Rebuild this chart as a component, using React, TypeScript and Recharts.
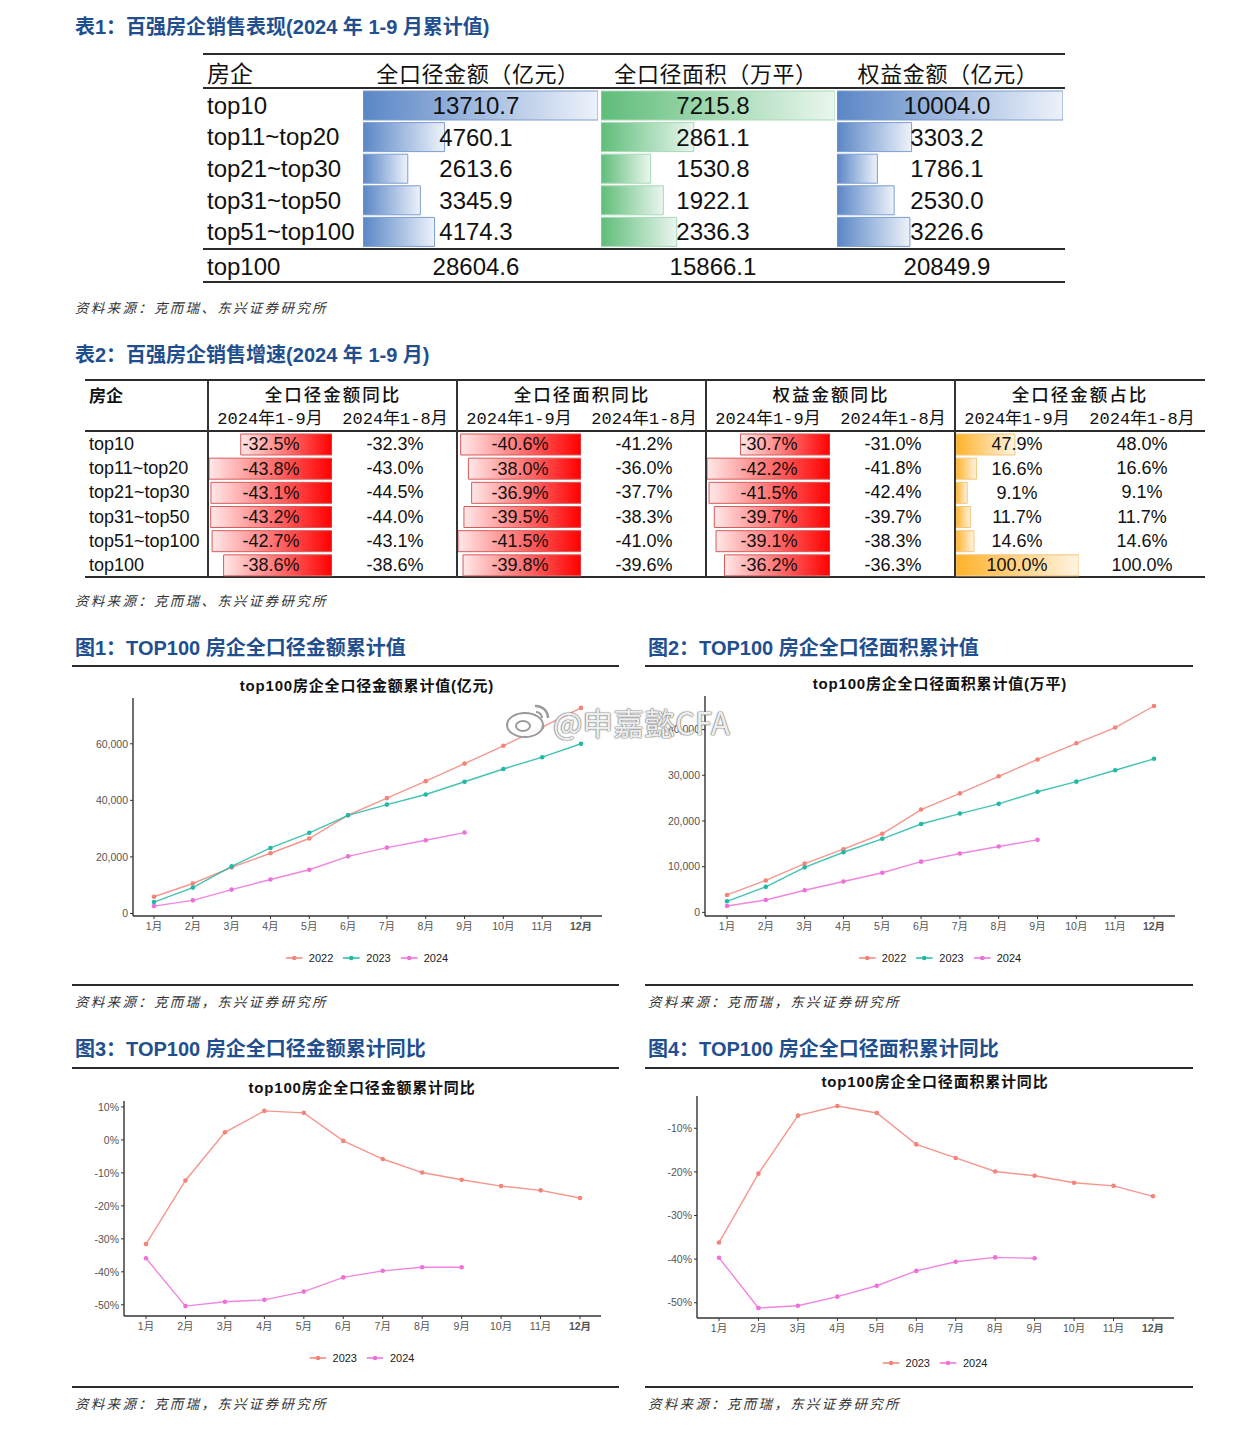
import React from 'react';
import { BarChart, Bar, LineChart, Line, XAxis, YAxis, LabelList } from 'recharts';

// ---- table 1: 2024 1-9月 cumulative values
const t1Rows = ['top10', 'top11~top20', 'top21~top30', 'top31~top50', 'top51~top100'];
const t1Amount = [13710.7, 4760.1, 2613.6, 3345.9, 4174.3];
const t1Area = [7215.8, 2861.1, 1530.8, 1922.1, 2336.3];
const t1Equity = [10004.0, 3303.2, 1786.1, 2530.0, 3226.6];
const t1Totals = [28604.6, 15866.1, 20849.9];

// ---- table 2: growth rates (%)
const t2Rows = ['top10', 'top11~top20', 'top21~top30', 'top31~top50', 'top51~top100', 'top100'];
const t2AmountSep = [-32.5, -43.8, -43.1, -43.2, -42.7, -38.6];
const t2AmountAug = [-32.3, -43.0, -44.5, -44.0, -43.1, -38.6];
const t2AreaSep = [-40.6, -38.0, -36.9, -39.5, -41.5, -39.8];
const t2AreaAug = [-41.2, -36.0, -37.7, -38.3, -41.0, -39.6];
const t2EquitySep = [-30.7, -42.2, -41.5, -39.7, -39.1, -36.2];
const t2EquityAug = [-31.0, -41.8, -42.4, -39.7, -38.3, -36.3];
const t2ShareSep = [47.9, 16.6, 9.1, 11.7, 14.6, 100.0];
const t2ShareAug = [48.0, 16.6, 9.1, 11.7, 14.6, 100.0];

// ---- charts
const months = ['1月', '2月', '3月', '4月', '5月', '6月', '7月', '8月', '9月', '10月', '11月', '12月'];
const amount2022 = [5900, 10600, 16300, 21300, 26500, 34800, 40800, 46800, 53000, 59300, 65900, 72700];
const amount2023 = [4040, 9150, 16640, 23170, 28520, 34700, 38500, 42070, 46580, 51100, 55260, 60010];
const amount2024 = [2610, 4630, 8440, 12000, 15450, 20200, 23290, 25900, 28605];
const area2022 = [3820, 6990, 10660, 13820, 17200, 22500, 26030, 29780, 33460, 36990, 40440, 45150];
const area2023 = [2430, 5590, 9850, 13160, 16100, 19340, 21620, 23750, 26400, 28600, 31100, 33600];
const area2024 = [1400, 2720, 4850, 6760, 8680, 11100, 12870, 14410, 15866];
const amountYoy2023 = [-31.6, -12.3, 2.3, 8.8, 8.2, -0.3, -5.8, -9.9, -12.1, -14.0, -15.3, -17.6];
const amountYoy2024 = [-35.9, -50.4, -49.1, -48.5, -46.0, -41.7, -39.7, -38.6, -38.6];
const areaYoy2023 = [-36.2, -20.4, -7.1, -4.9, -6.5, -13.7, -16.8, -19.9, -20.9, -22.5, -23.2, -25.6];
const areaYoy2024 = [-39.7, -51.2, -50.7, -48.6, -46.1, -42.7, -40.6, -39.6, -39.8];

const SANS = '"Liberation Sans", Arial, "Noto Sans CJK SC", sans-serif';
const CJK = '"Noto Sans CJK SC", "Liberation Sans", sans-serif';
const MONO = '"Liberation Mono", "Noto Sans CJK SC", monospace';
const BLUE = '#1F4F8F';
const C2022 = '#F4847A';
const C2023 = '#22B8A6';
const C2024 = '#EE70DA';

type TxtProps = { x: number; y: number; anchor?: 'start' | 'middle'; style?: React.CSSProperties; children: React.ReactNode };
function Txt({ x, y, anchor = 'start', style, children }: TxtProps) {
  return (
    <div
      style={{
        position: 'absolute',
        left: x,
        top: y,
        transform: anchor === 'middle' ? 'translate(-50%, -50%)' : 'translateY(-50%)',
        whiteSpace: 'nowrap',
        lineHeight: 1,
        ...style,
      }}
    >
      {children}
    </div>
  );
}

function HLine({ x1, x2, y, w = 2 }: { x1: number; x2: number; y: number; w?: number }) {
  return <div style={{ position: 'absolute', left: x1, top: y - w / 2, width: x2 - x1, height: w, background: '#2b2b2b' }} />;
}
function VLine({ x, y1, y2 }: { x: number; y1: number; y2: number }) {
  return <div style={{ position: 'absolute', left: x - 0.6, top: y1, width: 1.2, height: y2 - y1, background: '#333' }} />;
}

type DataBarProps = {
  left: number; top: number; width: number; height: number;
  values: number[]; domain: [number, number]; grad: string; stroke: string;
  barSize: number; labelX: number; fontSize: number; fmt: (v: number) => string;
};
function DataBars({ left, top, width, height, values, domain, grad, stroke, barSize, labelX, fontSize, fmt }: DataBarProps) {
  const data = values.map((v, i) => ({ row: i, v }));
  return (
    <div style={{ position: 'absolute', left, top }}>
      <BarChart layout="vertical" width={width} height={height} data={data} margin={{ top: 0, right: 0, bottom: 0, left: 0 }}>
        <XAxis type="number" domain={domain} hide allowDataOverflow />
        <YAxis type="category" dataKey="row" hide />
        <Bar dataKey="v" barSize={barSize} fill={`url(#${grad})`} stroke={stroke} strokeWidth={1} isAnimationActive={false}>
          <LabelList
            dataKey="v"
            content={(p: any) => {
              const y = p.y ?? p.viewBox?.y;
              const h = p.height ?? p.viewBox?.height;
              return (
                <text x={labelX} y={y + h / 2} textAnchor="middle" dominantBaseline="central" fontSize={fontSize} fontFamily={SANS} fill="#111">
                  {fmt(Number(p.value))}
                </text>
              );
            }}
          />
        </Bar>
      </BarChart>
    </div>
  );
}

type PanelProps = {
  plot: { left: number; right: number; top: number; bottom: number };
  pad: [number, number];
  domain: [number, number];
  ticks: number[];
  fmt: (v: number) => string;
  series: { name: string; values: number[]; color: string }[];
  title: string; titleX: number; titleY: number;
  legendX: number; legendY: number;
};
function TrendPanel({ plot, pad, domain, ticks, fmt, series, title, titleX, titleY, legendX, legendY }: PanelProps) {
  const left = plot.left - 60;
  const top = plot.top - 5;
  const width = plot.right + 10 - left;
  const height = plot.bottom + 30 - top;
  const data = months.map((m, i) => {
    const row: Record<string, any> = { month: m };
    series.forEach((s, k) => { row['s' + k] = s.values[i]; });
    return row;
  });
  const XTick = (p: any) => (
    <text x={p.x} y={p.y} dy={9} textAnchor="middle" fontSize={10.5} fontFamily={SANS} fill="#555"
      fontWeight={p.payload.value === '12月' ? 'bold' : 'normal'}>
      {p.payload.value}
    </text>
  );
  return (
    <>
      <Txt x={titleX} y={titleY} anchor="middle" style={{ fontFamily: SANS, fontWeight: 'bold', fontSize: 15, letterSpacing: 0.8, color: '#111' }}>{title}</Txt>
      <div style={{ position: 'absolute', left, top }}>
        <LineChart width={width} height={height} data={data} margin={{ top: 5, right: 10, bottom: 5, left: 5 }}>
          <XAxis dataKey="month" interval={0} padding={{ left: pad[0], right: pad[1] }} height={25}
            axisLine={{ stroke: '#333', strokeWidth: 1.4 }} tickLine={{ stroke: '#333' }} tickSize={3} tick={XTick} />
          <YAxis type="number" domain={domain} ticks={ticks} allowDataOverflow width={55} tickFormatter={fmt}
            axisLine={{ stroke: '#333', strokeWidth: 1.4 }} tickLine={{ stroke: '#333' }} tickSize={3}
            tick={{ fontSize: 10.5, fill: '#555', fontFamily: SANS }} />
          {series.map((s, k) => (
            <Line key={s.name} type="linear" dataKey={'s' + k} stroke={s.color} strokeWidth={1.4} strokeOpacity={0.85}
              dot={{ r: 2.3, fill: s.color, stroke: s.color, strokeWidth: 0 }} isAnimationActive={false} />
          ))}
        </LineChart>
      </div>
      <div style={{ position: 'absolute', left: legendX, top: legendY, transform: 'translate(-50%, -50%)', display: 'flex', alignItems: 'center', gap: 10 }}>
        {series.map((s) => (
          <div key={s.name} style={{ display: 'flex', alignItems: 'center', gap: 6 }}>
            <svg width={17} height={8}>
              <line x1={0} y1={4} x2={17} y2={4} stroke={s.color} strokeWidth={1.5} />
              <circle cx={8.5} cy={4} r={2.3} fill={s.color} />
            </svg>
            <span style={{ fontFamily: SANS, fontSize: 11, color: '#222' }}>{s.name}</span>
          </div>
        ))}
      </div>
    </>
  );
}

const sourceStyle: React.CSSProperties = { fontFamily: CJK, fontStyle: 'italic', fontSize: 13.5, color: '#333', letterSpacing: 2.3 };
const headStyle: React.CSSProperties = { fontFamily: SANS, fontWeight: 'bold', fontSize: 20, color: BLUE };
const thousands = (v: number) => v.toLocaleString('en-US');
const pct = (v: number) => `${v}%`;
const pct1 = (v: number) => `${v.toFixed(1)}%`;

export default function App() {
  const t1Top = 90, t1Row = 31.6;
  const t2Top = 432, t2Row = 24.17;
  return (
    <div style={{ position: 'relative', width: 1260, height: 1440, margin: '-8px 0 0 -8px', background: '#fff', overflow: 'hidden' }}>
      <svg width={0} height={0} style={{ position: 'absolute' }}>
        <defs>
          <linearGradient id="gBlue" x1="0" y1="0" x2="1" y2="0">
            <stop offset="0%" stopColor="#5A86C6" />
            <stop offset="100%" stopColor="#EDF2FA" />
          </linearGradient>
          <linearGradient id="gGreen" x1="0" y1="0" x2="1" y2="0">
            <stop offset="0%" stopColor="#5FBD79" />
            <stop offset="100%" stopColor="#EAF6EE" />
          </linearGradient>
          <linearGradient id="gRed" x1="0" y1="0" x2="1" y2="0">
            <stop offset="0%" stopColor="#FFE8E8" />
            <stop offset="100%" stopColor="#FF0000" />
          </linearGradient>
          <linearGradient id="gOrange" x1="0" y1="0" x2="1" y2="0">
            <stop offset="0%" stopColor="#FFB22A" />
            <stop offset="100%" stopColor="#FFF4E2" />
          </linearGradient>
        </defs>
      </svg>

      {/* ===== Table 1 ===== */}
      <Txt x={75} y={27} style={headStyle}>表1：百强房企销售表现(2024 年 1-9 月累计值)</Txt>
      <HLine x1={203} x2={1065} y={54} />
      <HLine x1={203} x2={1065} y={88} w={2.4} />
      <HLine x1={203} x2={1065} y={249} w={1.6} />
      <HLine x1={203} x2={1065} y={282} />
      <Txt x={207} y={72} style={{ fontFamily: CJK, fontSize: 23, color: '#111' }}>房企</Txt>
      <Txt x={478} y={72} anchor="middle" style={{ fontFamily: CJK, fontSize: 22, color: '#111', letterSpacing: 0.6 }}>全口径金额（亿元）</Txt>
      <Txt x={716} y={72} anchor="middle" style={{ fontFamily: CJK, fontSize: 22, color: '#111', letterSpacing: 0.6 }}>全口径面积（万平）</Txt>
      <Txt x={948} y={72} anchor="middle" style={{ fontFamily: CJK, fontSize: 22, color: '#111', letterSpacing: 0.6 }}>权益金额（亿元）</Txt>
      {t1Rows.map((r, i) => (
        <Txt key={r} x={207} y={t1Top + t1Row * (i + 0.5)} style={{ fontFamily: SANS, fontSize: 24, color: '#111' }}>{r}</Txt>
      ))}
      <DataBars left={363} top={t1Top} width={235} height={t1Row * 5} values={t1Amount} domain={[0, 13710.7]} grad="gBlue" stroke="#7C9DD2" barSize={29} labelX={113} fontSize={24} fmt={(v) => v.toFixed(1)} />
      <DataBars left={601} top={t1Top} width={234} height={t1Row * 5} values={t1Area} domain={[0, 7215.8]} grad="gGreen" stroke="#A6DAB4" barSize={29} labelX={112} fontSize={24} fmt={(v) => v.toFixed(1)} />
      <DataBars left={837} top={t1Top} width={226} height={t1Row * 5} values={t1Equity} domain={[0, 10004.0]} grad="gBlue" stroke="#7C9DD2" barSize={29} labelX={110} fontSize={24} fmt={(v) => v.toFixed(1)} />
      <Txt x={207} y={267} style={{ fontFamily: SANS, fontSize: 24, color: '#111' }}>top100</Txt>
      {t1Totals.map((v, i) => (
        <Txt key={i} x={[476, 713, 947][i]} y={267} anchor="middle" style={{ fontFamily: SANS, fontSize: 24, color: '#111' }}>{v.toFixed(1)}</Txt>
      ))}
      <Txt x={75} y={308} style={sourceStyle}>资料来源：克而瑞、东兴证券研究所</Txt>

      {/* ===== Table 2 ===== */}
      <Txt x={75} y={355} style={headStyle}>表2：百强房企销售增速(2024 年 1-9 月)</Txt>
      <HLine x1={85} x2={1205} y={380} w={1.5} />
      <HLine x1={85} x2={1205} y={431} w={2.4} />
      <HLine x1={85} x2={1205} y={577} w={2} />
      {[208, 457, 706, 955].map((x) => <VLine key={x} x={x} y1={380} y2={577} />)}
      <Txt x={89} y={394} style={{ fontFamily: CJK, fontSize: 17, fontWeight: 'bold', color: '#111' }}>房企</Txt>
      {['全口径金额同比', '全口径面积同比', '权益金额同比', '全口径金额占比'].map((h, i) => (
        <Txt key={h} x={333 + 249 * i} y={394} anchor="middle" style={{ fontFamily: CJK, fontSize: 17.5, fontWeight: 500, color: '#111', letterSpacing: 2 }}>{h}</Txt>
      ))}
      {[0, 1, 2, 3].map((g) => (
        <React.Fragment key={g}>
          <Txt x={270 + 249 * g} y={419} anchor="middle" style={{ fontFamily: MONO, fontSize: 17, color: '#111' }}>2024年1-9月</Txt>
          <Txt x={395 + 249 * g} y={419} anchor="middle" style={{ fontFamily: MONO, fontSize: 17, color: '#111' }}>2024年1-8月</Txt>
        </React.Fragment>
      ))}
      {t2Rows.map((r, i) => (
        <Txt key={r} x={89} y={t2Top + t2Row * (i + 0.5)} style={{ fontFamily: SANS, fontSize: 18, color: '#111' }}>{r}</Txt>
      ))}
      <DataBars left={209} top={t2Top} width={123} height={t2Row * 6} values={t2AmountSep} domain={[-43.8, 0]} grad="gRed" stroke="#D85A5A" barSize={21} labelX={62} fontSize={18} fmt={pct1} />
      <DataBars left={458} top={t2Top} width={123} height={t2Row * 6} values={t2AreaSep} domain={[-41.5, 0]} grad="gRed" stroke="#D85A5A" barSize={21} labelX={62} fontSize={18} fmt={pct1} />
      <DataBars left={707} top={t2Top} width={123} height={t2Row * 6} values={t2EquitySep} domain={[-42.2, 0]} grad="gRed" stroke="#D85A5A" barSize={21} labelX={62} fontSize={18} fmt={pct1} />
      <DataBars left={956} top={t2Top} width={123} height={t2Row * 6} values={t2ShareSep} domain={[0, 100]} grad="gOrange" stroke="#F2C77A" barSize={21} labelX={61} fontSize={18} fmt={pct1} />
      {[t2AmountAug, t2AreaAug, t2EquityAug, t2ShareAug].map((col, g) =>
        col.map((v, i) => (
          <Txt key={g + '-' + i} x={395 + 249 * g} y={t2Top + t2Row * (i + 0.5)} anchor="middle" style={{ fontFamily: SANS, fontSize: 18, color: '#111' }}>{pct1(v)}</Txt>
        ))
      )}
      <Txt x={75} y={601} style={sourceStyle}>资料来源：克而瑞、东兴证券研究所</Txt>

      {/* ===== Figures ===== */}
      <Txt x={75} y={648} style={headStyle}>图1：TOP100 房企全口径金额累计值</Txt>
      <Txt x={648} y={648} style={headStyle}>图2：TOP100 房企全口径面积累计值</Txt>
      <HLine x1={72} x2={619} y={666} />
      <HLine x1={645} x2={1193} y={666} />
      <HLine x1={72} x2={619} y={985} />
      <HLine x1={645} x2={1193} y={985} />
      <Txt x={75} y={1002} style={sourceStyle}>资料来源：克而瑞，东兴证券研究所</Txt>
      <Txt x={648} y={1002} style={sourceStyle}>资料来源：克而瑞，东兴证券研究所</Txt>

      <TrendPanel
        plot={{ left: 133, right: 602, top: 698, bottom: 916 }} pad={[21, 21]} domain={[-900, 76200]} ticks={[0, 20000, 40000, 60000]} fmt={thousands}
        series={[{ name: '2022', values: amount2022, color: C2022 }, { name: '2023', values: amount2023, color: C2023 }, { name: '2024', values: amount2024, color: C2024 }]}
        title="top100房企全口径金额累计值(亿元)" titleX={367} titleY={685} legendX={367} legendY={958}
      />
      <TrendPanel
        plot={{ left: 705, right: 1175, top: 696, bottom: 916 }} pad={[22, 21]} domain={[-790, 47340]} ticks={[0, 10000, 20000, 30000, 40000]} fmt={thousands}
        series={[{ name: '2022', values: area2022, color: C2022 }, { name: '2023', values: area2023, color: C2023 }, { name: '2024', values: area2024, color: C2024 }]}
        title="top100房企全口径面积累计值(万平)" titleX={940} titleY={683} legendX={940} legendY={958}
      />

      <Txt x={75} y={1049} style={headStyle}>图3：TOP100 房企全口径金额累计同比</Txt>
      <Txt x={648} y={1049} style={headStyle}>图4：TOP100 房企全口径面积累计同比</Txt>
      <HLine x1={72} x2={619} y={1068} />
      <HLine x1={645} x2={1193} y={1068} />
      <HLine x1={72} x2={619} y={1387} />
      <HLine x1={645} x2={1193} y={1387} />
      <Txt x={75} y={1404} style={sourceStyle}>资料来源：克而瑞，东兴证券研究所</Txt>
      <Txt x={648} y={1404} style={sourceStyle}>资料来源：克而瑞，东兴证券研究所</Txt>

      <TrendPanel
        plot={{ left: 124, right: 601, top: 1101, bottom: 1316 }} pad={[22, 21]} domain={[-53.4, 11.8]} ticks={[10, 0, -10, -20, -30, -40, -50]} fmt={pct}
        series={[{ name: '2023', values: amountYoy2023, color: C2022 }, { name: '2024', values: amountYoy2024, color: C2024 }]}
        title="top100房企全口径金额累计同比" titleX={362} titleY={1087} legendX={362} legendY={1358}
      />
      <TrendPanel
        plot={{ left: 697, right: 1174, top: 1096, bottom: 1318 }} pad={[22, 21]} domain={[-53.5, -2.6]} ticks={[-10, -20, -30, -40, -50]} fmt={pct}
        series={[{ name: '2023', values: areaYoy2023, color: C2022 }, { name: '2024', values: areaYoy2024, color: C2024 }]}
        title="top100房企全口径面积累计同比" titleX={935} titleY={1081} legendX={935} legendY={1363}
      />

      {/* watermark */}
      <svg width={50} height={40} style={{ position: 'absolute', left: 503, top: 700 }}>
        <ellipse cx={22} cy={25} rx={18} ry={12} fill="rgba(255,255,255,0.85)" stroke="#9a9a9a" strokeWidth={2} />
        <ellipse cx={20} cy={26} rx={7} ry={5} fill="none" stroke="#9a9a9a" strokeWidth={2} />
        <path d="M32 6 A12 12 0 0 1 45 18" fill="none" stroke="#9a9a9a" strokeWidth={2.5} />
        <path d="M33 12 A6 6 0 0 1 39 18" fill="none" stroke="#9a9a9a" strokeWidth={2} />
      </svg>
      <Txt x={553} y={721} style={{ fontFamily: CJK, fontSize: 31, color: 'rgba(255,255,255,0.9)', textShadow: '0 0 1.5px #777, 0 0 1.5px #777, 0 0 1px #777' }}>@申嘉懿CFA</Txt>
    </div>
  );
}
